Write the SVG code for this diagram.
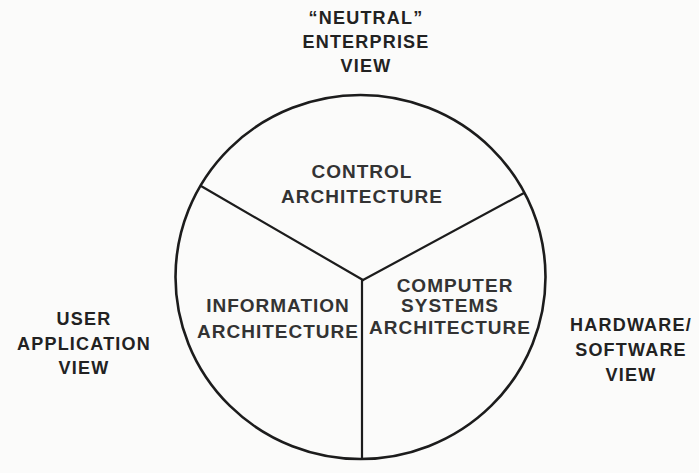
<svg xmlns="http://www.w3.org/2000/svg" width="699" height="473" viewBox="0 0 699 473">
  <style>
    .bg { fill: #fbfbfa; }
    .ring { fill: none; stroke: #1c1c1c; stroke-width: 2.6; }
    .divider { stroke: #1c1c1c; stroke-width: 2.2; stroke-linecap: round; fill: none; }
    .label { font-family: "Liberation Sans", Arial, sans-serif; font-weight: bold; font-size: 18px; letter-spacing: 1.2px; fill: #222; text-anchor: middle; }
    .inner { font-size: 19px; letter-spacing: 1px; fill: #333; }
  </style>
  <rect class="bg" x="0" y="0" width="699" height="473"/>

  <!-- outer circle split into three sectors -->
  <g id="circle">
    <ellipse class="ring" cx="360.5" cy="277" rx="185" ry="182"/>
  </g>
  <g id="connectors">
    <line class="divider" x1="363" y1="280" x2="201" y2="186"/>
    <line class="divider" x1="363" y1="280" x2="524" y2="193"/>
    <line class="divider" x1="362" y1="280" x2="362" y2="459"/>
  </g>

  <!-- sector labels -->
  <g id="control-architecture">
    <text class="label inner" x="362" y="178">CONTROL</text>
    <text class="label inner" x="362" y="203">ARCHITECTURE</text>
  </g>
  <g id="information-architecture">
    <text class="label inner" x="278" y="312">INFORMATION</text>
    <text class="label inner" x="278" y="338">ARCHITECTURE</text>
  </g>
  <g id="computer-systems-architecture">
    <text class="label inner" x="455" y="292">COMPUTER</text>
    <text class="label inner" x="450" y="312">SYSTEMS</text>
    <text class="label inner" x="450" y="334">ARCHITECTURE</text>
  </g>

  <!-- viewpoint labels around the circle -->
  <g id="neutral-enterprise-view">
    <text class="label" x="366" y="24">“NEUTRAL”</text>
    <text class="label" x="366" y="48">ENTERPRISE</text>
    <text class="label" x="366" y="72">VIEW</text>
  </g>
  <g id="user-application-view">
    <text class="label" x="84" y="325">USER</text>
    <text class="label" x="84" y="350">APPLICATION</text>
    <text class="label" x="84" y="374">VIEW</text>
  </g>
  <g id="hardware-software-view">
    <text class="label" x="631" y="331">HARDWARE/</text>
    <text class="label" x="631" y="356">SOFTWARE</text>
    <text class="label" x="631" y="381">VIEW</text>
  </g>
</svg>
